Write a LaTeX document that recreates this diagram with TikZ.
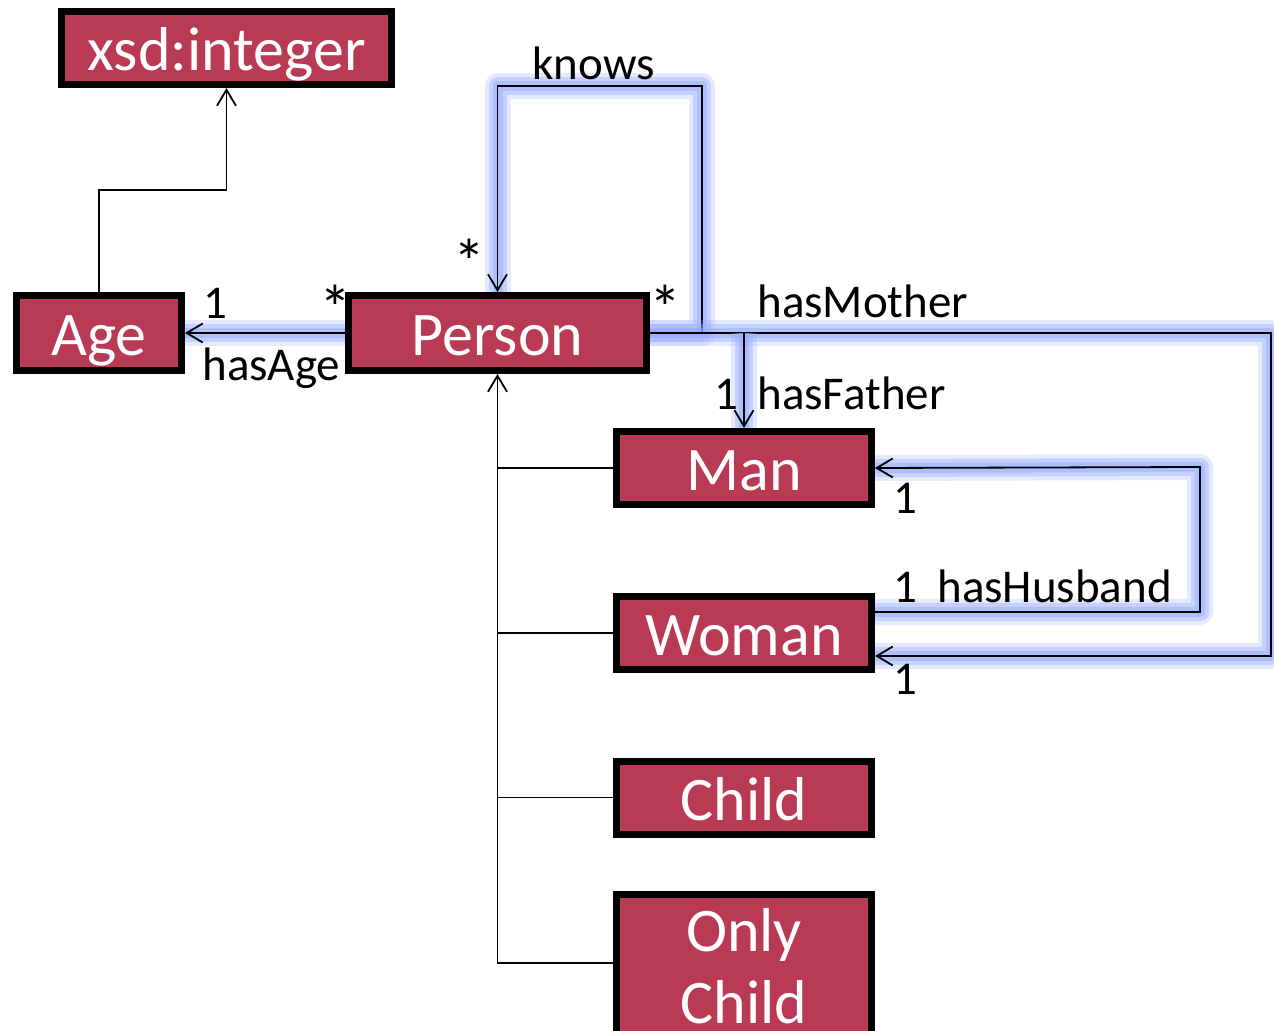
\documentclass[tikz,border=0pt]{standalone}
\usepackage{fontspec}
\setmainfont{Carlito}
\usetikzlibrary{arrows.meta}
\definecolor{boxred}{RGB}{185,58,85}
\definecolor{glow}{RGB}{150,172,255}
\tikzset{
  cls/.style={draw=black,fill=boxred,line width=3.5pt,text=white,
    font=\fontsize{31}{36}\selectfont,inner sep=0pt},
  onebox/.style={cls,text height=24.5pt,text depth=2pt},
  subbox/.style={onebox,minimum width=127.5pt,minimum height=36.5pt},
  lbl/.style={font=\fontsize{23.5}{28}\selectfont,inner sep=0pt,anchor=base west},
  star/.style={lbl,font=\fontsize{32}{36}\selectfont},
  rel/.style={line width=0.9pt,-{Straight Barb[length=8pt,width=9.5pt]}},
  hl/.style={rel,
    preaction={draw=glow,line width=13pt,-,line join=round,opacity=0.25},
    preaction={draw=glow,line width=9pt,-,line join=round,opacity=0.4},
    preaction={draw=glow,line width=5pt,-,line join=round,opacity=0.5}},
}
\begin{document}
\begin{tikzpicture}[x=0.5pt,y=-0.5pt]
\useasboundingbox (0,0) rectangle (1274,1031);

% classes
\node[onebox,minimum width=165pt,minimum height=36.5pt] (xsd) at (226.5,48) {xsd:integer};
\node[onebox,minimum width=82.5pt,minimum height=37.5pt] (age) at (99,333) {Age};
\node[onebox,minimum width=149pt,minimum height=37.5pt] (person) at (497.5,333) {Person};
\node[subbox] (man) at (744,468) {Man};
\node[subbox] (woman) at (744,633) {Woman};
\node[subbox] (child) at (744,797.5) {Child};
\node[cls,align=center,minimum width=127.5pt,minimum height=71.5pt] (only) at (744,966) {Only\\Child};

% subclasses
\draw[rel] ([yshift=1.5pt]only.west) -| (person.south);
\foreach \n in {man,woman,child}
  \draw[line width=0.9pt] (\n.west) -- (\n.west -| person.south);

% datatype
\draw[rel] (age.north) |- (xsd.south |- 0,190) -- (xsd.south);

% properties
\draw[hl] (person.west) -- (age.east);
\draw[hl] (person.east) -| (702,86) -| (person.north);
\draw[hl] (person.east) -| (1271,656) -- ([yshift=-11.5pt]woman.east);
\draw[hl] (man.north |- person.east) -- (man.north);
\draw[hl] ([yshift=10.5pt]woman.east) -| (1200,467) -- (man.east);

% labels
\node[lbl] (l1) at (203,319) {1};
\node[lbl] (l2) at (202,381) {hasAge};
\node[star] (l3) at (319,331) {*};
\node[star] (l4) at (649,331) {*};
\node[star] (l5) at (453,285) {*};
\node[lbl] (l6) at (532,80) {knows};
\node[lbl] (l7) at (757,318) {hasMother};
\node[lbl] (l8) at (714,410) {1};
\node[lbl] (l9) at (757,410) {hasFather};
\node[lbl] (l10) at (893,514) {1};
\node[lbl] (l11) at (893,603) {1};
\node[lbl] (l12) at (937,603) {hasHusband};
\node[lbl] (l13) at (893,694) {1};

\end{tikzpicture}
\end{document}
